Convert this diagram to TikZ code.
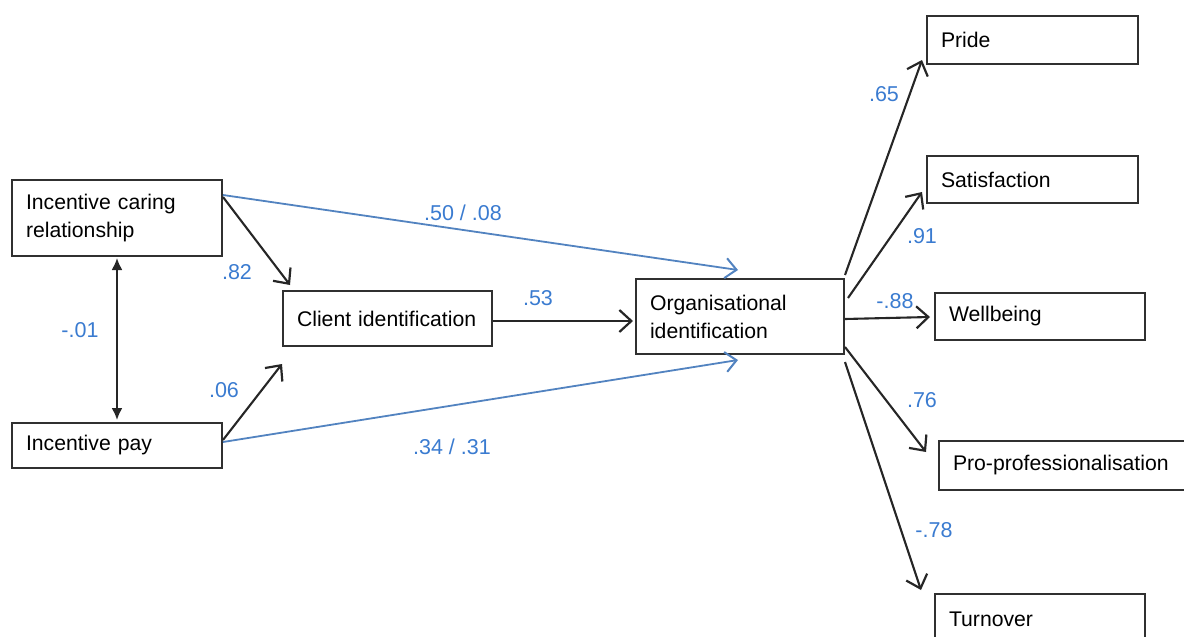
\documentclass[tikz,border=0pt]{standalone}
\usepackage{fontspec}
\setmainfont{Liberation Sans}
\usetikzlibrary{arrows.meta,calc}
\hyphenpenalty=10000
\exhyphenpenalty=10000
\definecolor{lblblue}{HTML}{3A7BD0}
\definecolor{lineblue}{HTML}{5283C0}
\definecolor{boxgray}{HTML}{303030}
\tikzset{
  box/.style={draw=boxgray,line width=2pt,anchor=north west,inner xsep=14pt,inner ysep=0pt,
    align=left,font=\fontsize{21.2}{28}\selectfont,text width=#1},
  box/.default=180pt,
  blk/.style={draw=black!85,line width=2.1pt,-{Straight Barb[length=12pt,width=22pt,line width=2.2pt]}},
  blu/.style={draw=lineblue,line width=1.8pt,-{Straight Barb[length=11pt,width=20pt,line width=2pt]}},
  dbl/.style={draw=black!85,line width=2pt,{Latex[length=12pt,width=11pt]}-{Latex[length=12pt,width=11pt]}},
  lbl/.style={text=lblblue,font=\fontsize{21.5}{24}\selectfont,inner sep=0pt}
}
\begin{document}
\begin{tikzpicture}[x=1pt,y=-1pt]
\useasboundingbox (0,0) rectangle (1184,637);
\clip (0,0) rectangle (1184,637);
% boxes
\node[box=182pt,minimum width=210pt,minimum height=76pt] (icr) at (11,179) {Incentive caring\\relationship};
\node[box=182pt,minimum width=210pt,minimum height=45pt] (ip) at (11,422) {Incentive pay};
\node[box=181pt,minimum width=209pt,minimum height=55pt] (ci) at (282,290) {Client identification};
\node[box=180pt,minimum width=208pt,minimum height=75pt] (oi) at (635,278) {Organisational\\identification};
\node[box=183pt,minimum width=211pt,minimum height=48pt] (pride) at (926,15) {Pride};
\node[box=183pt,minimum width=211pt,minimum height=47pt] (sat) at (926,155) {Satisfaction};
\node[box=182pt,minimum width=210pt,minimum height=47pt] (well) at (934,292) {Wellbeing};
\node[box=240pt,minimum width=268pt,minimum height=49pt] (pro) at (938,440) {Pro-professionalisation};
\node[box=182pt,minimum width=210pt,minimum height=50pt] (turn) at (934,593) {\raisebox{-2pt}{Turnover}};
% connectors
\draw[dbl] ([shift={(0,1)}]icr.south) -- ([shift={(0,-2)}]ip.north);
\draw[blk] ([shift={(0,18)}]icr.north east) -- ([shift={(8,-5)}]ci.north west);
\draw[blk] ([shift={(0,18)}]ip.north east) -- ([shift={(0,17)}]ci.south west);
\draw[blu] ([shift={(0,16)}]icr.north east) -- ([shift={(-2,-8)}]oi.north);
\draw[blu] ([shift={(0,20)}]ip.north east) -- ([shift={(-2,5)}]oi.south);
\draw[blk] ([shift={(0,2.5)}]ci.east) -- ([shift={(-2,4.5)}]oi.west);
\draw[blk] ([shift={(0,-3)}]oi.north east) -- ([shift={(-4,-5)}]pride.south west);
\draw[blk] ([shift={(3,20)}]oi.north east) -- ([shift={(-4,-12)}]sat.south west);
\draw[blk] ([shift={(0,2.5)}]oi.east) -- ([shift={(-4,0.5)}]well.west);
\draw[blk] ([shift={(0,-8)}]oi.south east) -- ([shift={(-12,12)}]pro.north west);
\draw[blk] ([shift={(0,7)}]oi.south east) -- ([shift={(-13,-3)}]turn.north west);
% labels
\node[lbl] (l82) at (237,272) {.82};
\node[lbl] (l06) at (224,390) {.06};
\node[lbl] (l01) at (80,330) {-.01};
\node[lbl] (l5008) at (463,213) {.50 / .08};
\node[lbl] (l53) at (538,298) {.53};
\node[lbl] (l3431) at (452,447) {.34 / .31};
\node[lbl] (l65) at (884,94) {.65};
\node[lbl] (l91) at (922,236) {.91};
\node[lbl] (l88) at (895,301) {-.88};
\node[lbl] (l76) at (922,400) {.76};
\node[lbl] (l78) at (934,530) {-.78};
\end{tikzpicture}
\end{document}
